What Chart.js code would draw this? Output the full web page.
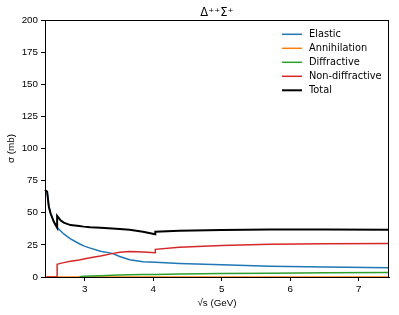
<!DOCTYPE html>
<html>
<head>
<meta charset="utf-8">
<script src="https://cdn.jsdelivr.net/npm/chart.js@4"></script>
<style>
  body { margin: 0; background: #fff; }
  canvas { display: block; }
</style>
</head>
<body>
<canvas id="chart" width="399" height="315"></canvas>
<script>
// sqrt(s) grid in GeV (repeated values mark the threshold jumps)
const sqrtS = [2.42, 2.428, 2.451, 2.476, 2.501, 2.549, 2.597, 2.597, 2.646, 2.694, 2.792, 2.92, 2.985,
               3.08, 3.23, 3.4, 3.51, 3.655, 3.85, 4.03, 4.03, 4.38, 5.0, 5.7, 6.5, 7.44];

// cross sections in mb
const elastic = [67.7, 67.7, 66.4, 54.7, 49.6, 43, 38.4, 38.4, 36, 33.5, 29.6, 25.9, 24.2,
                 22.5, 20, 18.4, 16, 13.4, 11.9, 11.4, 11.4, 10.6, 9.6, 8.4, 7.7, 7.2];
const annihilation = [0, 0, 0, 0, 0, 0, 0, 0, 0, 0, 0, 0, 0,
                      0, 0, 0, 0, 0, 0, 0, 0, 0, 0, 0, 0, 0];
const diffractive = [null, null, null, null, null, null, null, null, null, null, null, 0.2, 0.5,
                     0.7, 1.0, 1.4, 1.5, 1.7, 1.85, 2.0, 2.0, 2.3, 2.7, 3.0, 3.3, 3.5];
const nonDiffractive = [0, 0, 0, 0, 0, 0, 0, 9.9, 10.6, 11.2, 12.3, 13.3, 14,
                        15, 16.3, 18.2, 19.2, 19.8, 19.4, 18.9, 21.5, 23.1, 24.6, 25.5, 25.9, 26];
const total = [67.7, 67.7, 66.4, 54.7, 49.6, 43, 38.4, 47.5, 44.2, 42.3, 40.4, 39.6, 39.2,
               38.8, 38.4, 37.8, 37.3, 36.7, 35.2, 33.2, 35.3, 36, 36.6, 37, 37, 36.8];

const xTickValues = [3, 4, 5, 6, 7];
const yTickValues = [0, 25, 50, 75, 100, 125, 150, 175, 200];

function points(values) {
    return sqrtS.map((x, i) => ({ x: x, y: values[i] }));
}

function series(label, values, color, width, order) {
    return {
        label: label,
        data: points(values),
        borderColor: color,
        backgroundColor: color,
        borderWidth: width,
        pointRadius: 0,
        tension: 0,
        fill: false,
        spanGaps: false,
        clip: 3,
        order: order
    };
}

// frame, title and legend drawn the way matplotlib places them
const decorations = {
    id: 'decorations',
    afterDraw(chart) {
        const ctx = chart.ctx;
        const a = chart.chartArea;
        ctx.save();
        ctx.strokeStyle = '#000';
        ctx.lineWidth = 1;
        ctx.strokeRect(a.left + 0.5, a.top + 0.5, a.right - a.left - 1, a.bottom - a.top);

        ctx.fillStyle = '#000';
        ctx.textAlign = 'center';
        ctx.textBaseline = 'alphabetic';
        ctx.font = '11.5px "DejaVu Sans"';
        ctx.fillText('Δ⁺⁺Σ̄⁺', (a.left + a.right) / 2, a.top - 4);

        ctx.font = '9.8px "DejaVu Sans"';
        ctx.textAlign = 'left';
        ctx.textBaseline = 'middle';
        chart.data.datasets.forEach((ds, i) => {
            const y = a.top + 14.3 + i * 14;
            ctx.strokeStyle = ds.borderColor;
            ctx.lineWidth = ds.borderWidth;
            ctx.beginPath();
            ctx.moveTo(a.right - 107, y);
            ctx.lineTo(a.right - 87, y);
            ctx.stroke();
            ctx.fillStyle = '#000';
            ctx.fillText(ds.label, a.right - 80, y);
        });
        ctx.restore();
    }
};

new Chart(document.getElementById('chart'), {
    type: 'line',
    data: {
        datasets: [
            series('Elastic', elastic, '#1f77b4', 1.5, 5),
            series('Annihilation', annihilation, '#ff7f0e', 1.5, 4),
            series('Diffractive', diffractive, '#2ca02c', 1.5, 3),
            series('Non-diffractive', nonDiffractive, '#d62728', 1.5, 2),
            series('Total', total, '#000000', 2, 1)
        ]
    },
    options: {
        responsive: false,
        animation: false,
        layout: { padding: { top: 20, right: 10, left: 0, bottom: 0 } },
        plugins: {
            legend: { display: false },
            title: { display: false },
            tooltip: { enabled: false }
        },
        scales: {
            x: {
                type: 'linear',
                min: 2.42,
                max: 7.44,
                afterBuildTicks: s => { s.ticks = xTickValues.map(v => ({ value: v })); },
                afterFit: s => { s.height = 38; },
                grid: { drawOnChartArea: false, tickLength: 4, tickColor: '#000' },
                border: { display: true, color: '#000' },
                ticks: { color: '#000', font: { size: 9.8 }, padding: 2, maxRotation: 0 },
                title: { display: true, text: '√s (GeV)', color: '#000', font: { size: 9.8 }, padding: { top: 0, bottom: 6 } }
            },
            y: {
                min: 0,
                max: 200,
                afterBuildTicks: s => { s.ticks = yTickValues.map(v => ({ value: v })); },
                afterFit: s => { s.width = 45; },
                grid: { drawOnChartArea: false, tickLength: 4, tickColor: '#000' },
                border: { display: true, color: '#000' },
                ticks: { color: '#000', font: { size: 9.8 }, padding: 3 },
                title: { display: true, text: 'σ (mb)', color: '#000', font: { size: 9.8 }, padding: { top: 5, bottom: 0 } }
            }
        }
    },
    plugins: [decorations]
});
</script>
</body>
</html>
